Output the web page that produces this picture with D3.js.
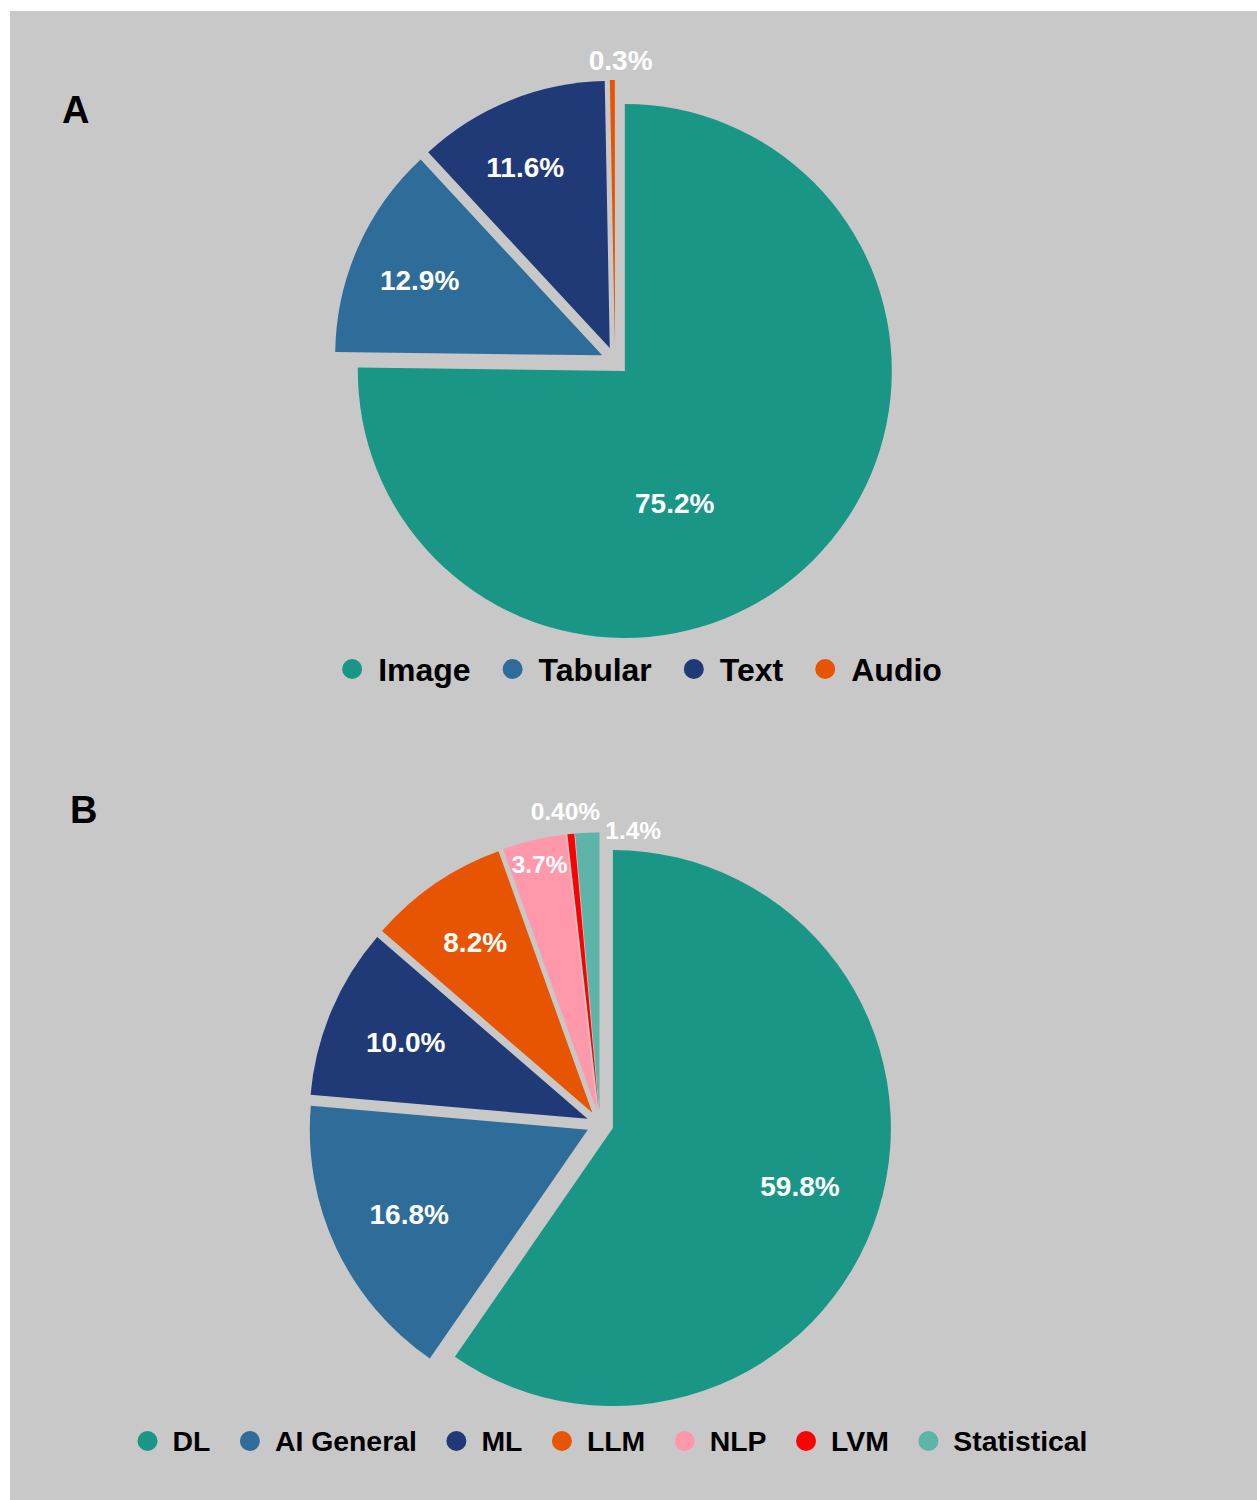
<!DOCTYPE html>
<html>
<head>
<meta charset="utf-8">
<script src="https://cdn.jsdelivr.net/npm/d3@7"></script>
<style>
  body { margin: 0; background: #fff; }
  text { font-family: "Liberation Sans", Arial, sans-serif; font-weight: bold; }
</style>
</head>
<body>
<svg width="1257" height="1500"></svg>
<script>
(function () {
  'use strict';

  // panel A : data type
  var categoriesA = ["Image", "Tabular", "Text", "Audio"];
  var valuesA = [75.2, 12.9, 11.6, 0.3];
  var labelsA = ["75.2%", "12.9%", "11.6%", "0.3%"];

  // panel B : model type
  var categoriesB = ["DL", "AI General", "ML", "LLM", "NLP", "LVM", "Statistical"];
  var valuesB = [59.8, 16.8, 10.0, 8.2, 3.7, 0.4, 1.4];
  var labelsB = ["59.8%", "16.8%", "10.0%", "8.2%", "3.7%", "0.40%", "1.4%"];

  var colorsA = ["#1a9687", "#2e6d9a", "#1f3a77", "#e85502"];
  var colorsB = ["#1a9687", "#2e6d9a", "#1f3a77", "#e85502", "#ff98aa", "#ff0000", "#5fb4a9"];

  var svg = d3.select("svg");

  // grey panel
  svg.append("rect")
      .attr("x", 10).attr("y", 11)
      .attr("width", 1257 - 10).attr("height", 1500 - 11)
      .attr("fill", "#c8c8c8");

  //layout for each pie: centre, radius, pull, label placement (radius fraction, angle shift in deg, font size)
  var panels = [
    {
      tag: "A", tagX: 62, tagY: 110,
      cats: categoriesA, vals: valuesA, labels: labelsA, colors: colorsA,
      cx: 615, cy: 361, r: 267, pull: 14,
      lab: [[0.53, 24, 28], [0.74, -1.5, 28], [0.75, -3, 28], [1.075, 1.7, 28]],
      legY: 669, legMid: 637, legSize: 32, legGap: 26, legSpace: 32
    },
    {
      tag: "B", tagX: 70, tagY: 810,
      cats: categoriesB, vals: valuesB, labels: labelsB, colors: colorsB,
      cx: 600, cy: 1124, r: 278, pull: 13.5,
      lab: [[0.705, 0, 28], [0.71, 0, 28], [0.71, 0, 28], [0.745, 0, 28], [0.91, 0, 24.5], [1.083, -0.6, 24.5], [1.014, 9.4, 24.5]],
      legY: 1441, legMid: 607.5, legSize: 28.4, legGap: 25, legSpace: 29.5
    }
  ];

  var pie = d3.pie().sort(null).value(function(d) { return d; });

  panels.forEach(function(P) {
    svg.append("text")
        .attr("x", P.tagX).attr("y", P.tagY + 13)
        .attr("font-size", 38)
        .attr("fill", "#000")
        .text(P.tag);

    var arc = d3.arc().innerRadius(0).outerRadius(P.r);
    var arcs = pie(P.vals);

    var g = svg.append("g").attr("transform", "translate(" + P.cx + "," + P.cy + ")");

    //every slice is pulled out along its middle angle
    var slice = g.selectAll("g.slice")
      .data(arcs)
      .enter().append("g")
        .attr("class", "slice")
        .attr("transform", function(d) {
          var m = (d.startAngle + d.endAngle) / 2;
          return "translate(" + (P.pull * Math.sin(m)) + "," + (-P.pull * Math.cos(m)) + ")";
        });

    slice.append("path")
        .attr("d", arc)
        .attr("fill", function(d, i) { return P.colors[i]; });

    slice.append("text")
        .attr("transform", function(d, i) {
          var m = (d.startAngle + d.endAngle) / 2 + P.lab[i][1] * Math.PI / 180;
          var rr = P.r * P.lab[i][0];
          return "translate(" + (rr * Math.sin(m)) + "," + (-rr * Math.cos(m)) + ")";
        })
        .attr("text-anchor", "middle")
        .attr("dy", "0.36em")
        .attr("font-size", function(d, i) { return P.lab[i][2]; })
        .attr("fill", "#fff")
        .text(function(d, i) { return P.labels[i]; });

    //legend, measured then centred
    var leg = svg.append("g");
    var items = leg.selectAll("g")
      .data(P.cats)
      .enter().append("g");
    items.append("circle")
        .attr("r", 10)
        .attr("cy", P.legY)
        .attr("fill", function(d, i) { return P.colors[i]; });
    items.append("text")
        .attr("y", P.legY)
        .attr("dy", "0.36em")
        .attr("font-size", P.legSize)
        .attr("fill", "#000")
        .text(function(d) { return d; });

    var x = 0, pos = [];
    items.each(function() {
      var w = d3.select(this).select("text").node().getComputedTextLength();
      pos.push(x);
      x += P.legGap + w + P.legSpace + 10;
    });
    var total = x - P.legSpace - 10;
    var x0 = P.legMid - total / 2 + 10;
    items.each(function(d, i) {
      var sel = d3.select(this);
      sel.select("circle").attr("cx", x0 + pos[i]);
      sel.select("text").attr("x", x0 + pos[i] + P.legGap);
    });
  });

}());
</script>
</body>
</html>
